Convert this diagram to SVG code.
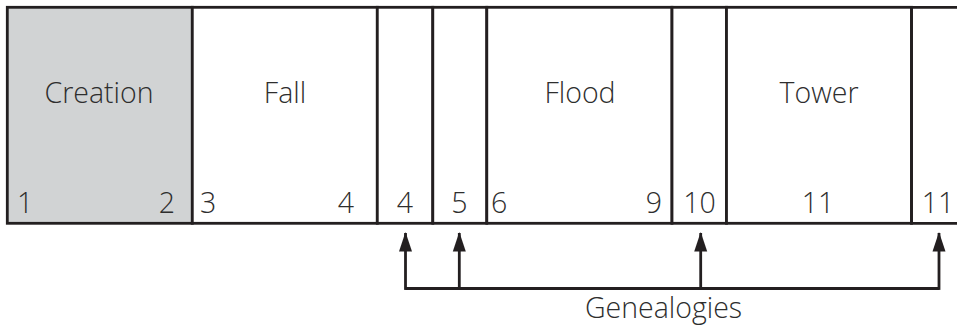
<svg xmlns="http://www.w3.org/2000/svg" width="957" height="326" viewBox="0 0 957 326">
<defs>
<style>
.cell{stroke:#231f20;stroke-width:2.8;fill:#ffffff}
.shade{fill:#d1d3d4}
.t{font-family:"Open Sans","Liberation Sans",sans-serif;font-weight:300;font-size:28.5px;fill:#2e2e2e}
.m{text-anchor:middle}
.e{text-anchor:end}
.conn{stroke:#231f20;stroke-width:2.8;fill:none}
</style>
<marker id="ah" markerUnits="userSpaceOnUse" markerWidth="20" markerHeight="14" viewBox="0 0 20 14" refX="19" refY="7" orient="auto">
<path d="M20,7 L0.5,0.5 L0.5,13.5 Z" fill="#231f20"/>
</marker>
</defs>
<rect width="957" height="326" fill="#ffffff"/>
<g id="creation">
<rect class="cell shade" x="7.3" y="7.3" width="185" height="216"/>
<text class="t m" x="99" y="103">Creation</text>
<text class="t" x="17" y="213">1</text>
<text class="t e" x="175" y="213">2</text>
</g>
<g id="fall">
<rect class="cell" x="192.3" y="7.3" width="185" height="216"/>
<text class="t m" x="285" y="103">Fall</text>
<text class="t" x="200" y="213">3</text>
<text class="t e" x="354" y="213">4</text>
</g>
<g id="cell4">
<rect class="cell" x="377.3" y="7.3" width="55.5" height="216"/>
<text class="t m" x="405" y="213">4</text>
</g>
<g id="cell5">
<rect class="cell" x="432.8" y="7.3" width="54" height="216"/>
<text class="t m" x="459.5" y="213">5</text>
</g>
<g id="flood">
<rect class="cell" x="486.8" y="7.3" width="185.2" height="216"/>
<text class="t m" x="580" y="103">Flood</text>
<text class="t" x="491" y="213">6</text>
<text class="t e" x="662" y="213">9</text>
</g>
<g id="cell10">
<rect class="cell" x="672" y="7.3" width="54.5" height="216"/>
<text class="t m" x="699.5" y="213">10</text>
</g>
<g id="tower">
<rect class="cell" x="726.5" y="7.3" width="185" height="216"/>
<text class="t m" x="819" y="103">Tower</text>
<text class="t m" x="818" y="213">11</text>
</g>
<g id="cell11">
<path class="conn" d="M960,7.3 H911.5 V223.3 H960"/>
<text class="t m" x="938" y="213">11</text>
</g>
<g id="connectors">
<path class="conn" d="M405.5,288.5 H939"/>
<line class="conn" x1="405.5" y1="289.9" x2="405.5" y2="233" marker-end="url(#ah)"/>
<line class="conn" x1="459.3" y1="288.5" x2="459.3" y2="233" marker-end="url(#ah)"/>
<line class="conn" x1="700.7" y1="288.5" x2="700.7" y2="233" marker-end="url(#ah)"/>
<line class="conn" x1="939" y1="289.9" x2="939" y2="233" marker-end="url(#ah)"/>
</g>
<g id="genealogies">
<text class="t m" x="663.5" y="318">Genealogies</text>
</g>
</svg>
